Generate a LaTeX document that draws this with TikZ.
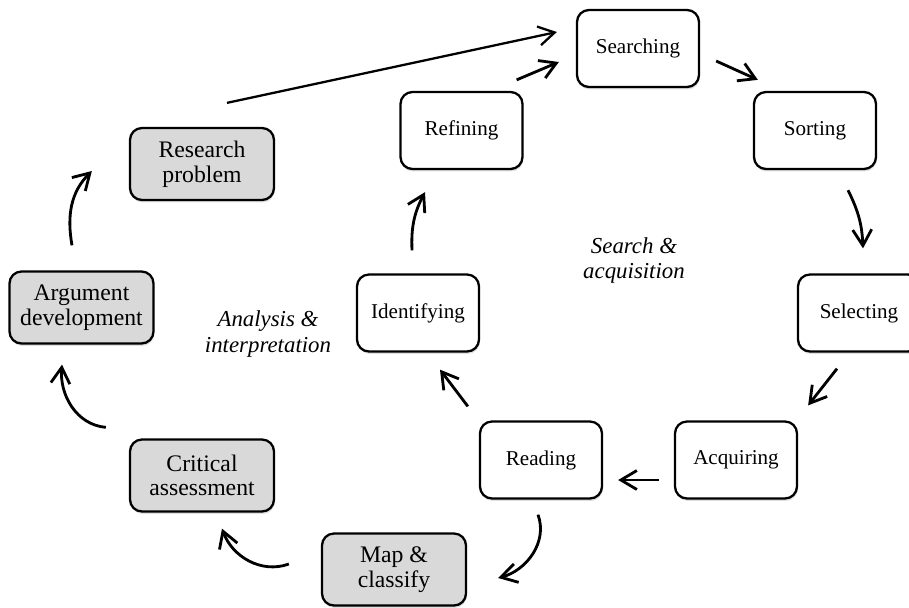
\documentclass[tikz,border=0pt]{standalone}
\usepackage{fontspec}
\setmainfont{Liberation Serif}
\usetikzlibrary{arrows.meta,shadows}

\begin{document}
\begin{tikzpicture}[>={Straight Barb[length=3.2mm,width=3.8mm]},
  wbox/.style={draw=black,line width=1.3pt,rounded corners=2.4mm,fill=white,minimum width=2.44cm,minimum height=1.54cm,inner sep=2pt,font=\fontsize{12}{13}\selectfont,drop shadow={shadow xshift=0.4pt,shadow yshift=-1.4pt,opacity=0.25}},
  gbox/.style={wbox,fill=black!15,minimum width=2.88cm,minimum height=1.44cm,align=center,font=\fontsize{13.5}{14}\selectfont},
  phase/.style={align=center,font=\fontsize{13}{14.5}\selectfont\itshape},
  flow/.style={->,line width=1.6pt}]
\useasboundingbox (0,0) rectangle (18.18,-12.14);
\node[wbox] (srch) at (12.76,-0.97) {Searching};
\node[wbox] (refn) at (9.23,-2.61) {Refining};
\node[wbox] (sort) at (16.30,-2.61) {Sorting};
\node[wbox] (ident) at (8.36,-6.26) {Identifying};
\node[wbox] (sel) at (17.18,-6.26) {Selecting};
\node[wbox] (read) at (10.82,-9.20) {Reading};
\node[wbox] (acq) at (14.72,-9.20) {Acquiring};
\node[gbox] (resp) at (4.04,-3.28) {Research\\problem};
\node[gbox] (argd) at (1.63,-6.15) {Argument\\development};
\node[gbox] (crit) at (4.04,-9.51) {Critical\\assessment};
\node[gbox] (mapc) at (7.88,-11.39) {Map \&\\classify};
\node[phase] (sacq) at (12.68,-5.21) {Search \&\\acquisition};
\node[phase] (aint) at (5.36,-6.68) {Analysis \&\\interpretation};
\draw[flow,line width=1.3pt] ([xshift=5mm,yshift=4.8mm]resp.north) -- ([xshift=-3.8mm,yshift=3.3mm]srch.west);
\draw[flow] ([xshift=-1.4mm,yshift=2.2mm]refn.north east) -- ([xshift=-3.4mm,yshift=-2.7mm]srch.west);
\draw[flow] ([xshift=3.2mm,yshift=-2.5mm]srch.east) -- ([xshift=1mm,yshift=2.2mm]sort.north west);
\draw[flow] ([xshift=6.6mm,yshift=-4mm]sort.south) to[bend left=12] ([xshift=0.8mm,yshift=5mm]sel.north);
\draw[flow] ([xshift=-4.4mm,yshift=-3.2mm]sel.south) -- ([xshift=2mm,yshift=3mm]acq.north east);
\draw[flow] ([xshift=-3mm,yshift=-4mm]acq.west) -- ([xshift=3mm,yshift=-4mm]read.east);
\draw[flow] ([xshift=-2.2mm,yshift=2.8mm]read.north west) -- ([xshift=4.4mm,yshift=-3.4mm]ident.south);
\draw[flow] ([xshift=-1.2mm,yshift=4.6mm]ident.north) to[bend left=15] ([xshift=-7.3mm,yshift=-4.4mm]refn.south);
\draw[flow] ([xshift=-0.6mm,yshift=-3mm]read.south) to[out=-70,in=15] ([xshift=6.2mm,yshift=-1.7mm]mapc.east);
\draw[flow] ([xshift=-6.4mm,yshift=1.1mm]mapc.west) to[out=200,in=-70] ([xshift=4mm,yshift=-3.2mm]crit.south);
\draw[flow] ([xshift=-4.6mm,yshift=2.2mm]crit.north west) to[out=175,in=-95] ([xshift=-3.9mm,yshift=-4mm]argd.south);
\draw[flow] ([xshift=-1.9mm,yshift=5mm]argd.north) to[out=100,in=-135] ([xshift=-7.4mm,yshift=-1.4mm]resp.west);
\end{tikzpicture}
\end{document}
